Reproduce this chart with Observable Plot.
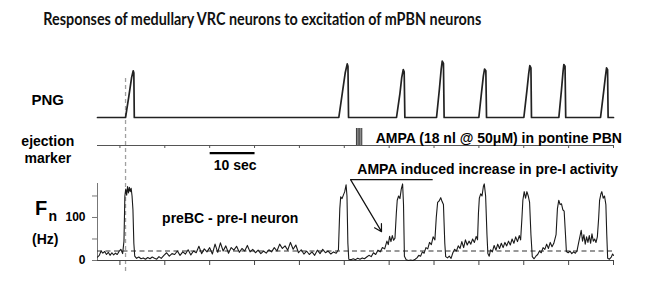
<!DOCTYPE html>
<html>
<head>
<meta charset="utf-8">
<script src="https://cdn.jsdelivr.net/npm/d3@7"></script>
<script src="https://cdn.jsdelivr.net/npm/@observablehq/plot@0.6"></script>
<style>
html, body { margin: 0; padding: 0; background: #fff; }
#root { position: relative; width: 648px; height: 294px; overflow: hidden; font-family: "Liberation Sans", Arial, sans-serif; color: #000; }
#title { position: absolute; left: 0; top: 0; }
.lab { position: absolute; font-weight: bold; white-space: nowrap; }
.layer { position: absolute; left: 0; }
</style>
</head>
<body>
<div id="root">
  <svg id="title" width="648" height="34" xmlns="http://www.w3.org/2000/svg">
    <text x="43.3" y="25.3" textLength="438" lengthAdjust="spacingAndGlyphs" font-family="Lato, 'Open Sans', sans-serif" font-weight="700" font-size="16.5" fill="#111">Responses of medullary VRC neurons to excitation of mPBN neurons</text>
  </svg>
  <div class="lab" style="left:31.5px; top:92.3px; font-size:15px; line-height:15px;">PNG</div>
  <div class="lab" style="left:0; width:95.6px; text-align:center; top:132.8px; font-size:14px; line-height:16.7px;">ejection<br>marker</div>
  <div class="lab" style="left:35px; top:198px; font-size:20px; line-height:20px;">F</div>
  <div class="lab" style="left:48.5px; top:209px; font-size:14px; line-height:14px;">n</div>
  <div class="lab" style="left:32px; top:232px; font-size:14px; line-height:14px;">(Hz)</div>
  <div id="layerStim" class="layer" style="top:70px"></div>
  <div id="layerPng" class="layer" style="top:50px"></div>
  <div id="layerMarker" class="layer" style="top:120px"></div>
  <div id="layerFn" class="layer" style="top:170px"></div>
</div>
<script>
// ---------------- data ----------------
// time axis in seconds; ticks every 10 s
const tickTimes = [0, 10, 20, 30, 40, 50, 60, 70, 80, 90, 100, 110];
const stimulusTime = 1.25;           // dashed vertical reference
const thresholdRate = 22;            // dashed horizontal level (Hz)

// PNG (phrenic nerve) integrated activity, arbitrary units
const pngTime = [-5, 1.25, 2.0, 2.6, 2.96, 3.1, 3.2,
  48.78, 49.6, 50.2, 50.66, 50.82, 50.95,
  61.64, 62.4, 62.8, 63.14, 63.35, 63.5,
  70.56, 71.2, 71.6, 71.83, 72.1, 72.25,
  79.99, 80.6, 81.0, 81.26, 81.55, 81.7,
  90.02, 90.7, 91.1, 91.35, 91.6, 91.72,
  97.82, 98.4, 98.75, 98.93, 99.2, 99.35,
  107.11, 107.8, 108.2, 108.45, 108.68, 108.8, 110];
const pngValue = [0, 0, 0.38, 0.7, 0.82, 0.78, 0,
  0, 0.45, 0.78, 0.94, 0.9, 0,
  0, 0.42, 0.7, 0.84, 0.8, 0,
  0, 0.5, 0.85, 0.99, 0.95, 0,
  0, 0.45, 0.73, 0.85, 0.82, 0,
  0, 0.47, 0.77, 0.91, 0.87, 0,
  0, 0.48, 0.8, 0.93, 0.9, 0,
  0, 0.45, 0.72, 0.87, 0.84, 0, 0];

// AMPA ejection
const ejectionStart = 52.7;
const ejectionEnd = 54.0;
const ejectionPulses = [52.75, 53.3, 53.9];
const ejectionLabel = "AMPA (18 nl @ 50\u03BCM) in pontine PBN";

// time scale bar
const scaleBarStart = 20;
const scaleBarEnd = 30;
const scaleBarLabel = "10 sec";

// preBC pre-I neuron firing rate (Hz)
const fnTime = [-5.0,-4.6,-4.2,-3.8,-3.4,-3.0,-2.6,-2.2,-1.8,-1.4,-1.0,-0.6,-0.2,0.2,0.6,
  0.9,1.1,1.3,1.5,1.7,1.9,2.1,2.3,2.5,2.7,2.9,3.1,3.3,
  3.7,4.2,4.7,5.2,5.7,6.2,6.7,7.2,7.7,8.2,8.7,9.2,
  9.8,10.4,11.0,11.6,12.2,12.8,13.4,14.0,14.6,15.2,15.8,16.4,17.0,17.6,18.2,18.8,19.4,20.0,20.6,21.2,21.8,22.4,23.0,23.6,24.2,24.8,25.4,26.0,26.6,27.2,27.8,28.4,29.0,29.6,30.2,30.8,31.4,32.0,32.6,33.2,33.8,34.4,35.0,35.6,36.2,36.8,37.4,38.0,38.6,39.2,39.8,40.4,41.0,41.6,42.2,42.8,43.4,44.0,44.6,45.2,45.8,46.4,47.0,47.6,48.2,
  48.7,49.0,49.2,49.5,49.8,50.1,50.4,50.6,50.8,51.0,
  51.5,52.0,52.5,53.0,53.5,54.0,54.5,55.0,
  55.5,56.0,56.5,57.0,57.5,58.0,58.5,59.0,59.5,59.8,60.1,60.4,60.7,61.0,61.3,
  61.6,61.8,62.1,62.4,62.7,63.0,63.2,63.4,
  63.8,64.3,64.8,65.3,65.8,66.2,
  66.6,67.0,67.4,67.8,68.2,68.6,69.0,69.4,69.8,70.2,
  70.5,70.8,71.1,71.5,71.8,72.1,72.4,72.6,73.0,73.4,73.8,
  74.2,74.6,75.0,75.4,75.8,76.2,76.6,77.0,77.4,77.8,78.2,78.6,79.0,79.4,79.7,
  79.9,80.1,80.4,80.7,81.0,81.2,81.5,81.8,82.0,
  82.3,82.6,83.0,83.4,83.8,84.2,84.6,85.0,85.4,85.8,86.2,86.6,87.0,87.4,87.8,88.2,88.6,89.0,89.3,
  89.6,89.8,90.1,90.4,90.7,91.0,91.3,91.6,91.9,
  92.3,92.7,93.1,93.5,93.9,94.3,94.7,95.1,95.5,95.9,96.3,96.7,
  97.2,97.5,97.8,98.1,98.4,98.7,99.0,99.3,99.5,
  99.9,100.3,100.7,101.1,101.5,101.9,
  102.2,102.5,102.8,103.1,103.4,103.7,104.0,104.3,104.6,104.9,105.2,105.5,105.8,106.1,106.4,
  106.7,106.9,107.2,107.4,107.7,108.0,108.3,108.5,108.7,
  109.1,109.5,109.8,110.0];
const fnRate = [8,12,22,17,21,14,19,12,18,13,17,14,21,26,16,
  45,150,166,152,172,157,170,160,168,150,118,40,10,
  5,8,4,6,3,7,4,8,5,3,9,5,
  12,18,10,16,14,22,12,20,15,25,13,22,18,33,16,27,20,30,15,38,19,41,22,34,17,30,24,33,19,28,22,35,20,26,18,24,16,22,17,25,20,30,22,38,28,34,24,42,26,36,18,25,15,22,14,20,12,24,16,26,18,22,15,20,17,
  25,120,148,144,152,160,176,150,40,3,
  2,4,2,5,3,6,4,8,
  12,9,18,14,24,20,30,27,45,37,56,44,58,47,52,
  110,140,150,144,166,178,130,10,
  2,0,1,0,3,6,
  12,10,20,17,30,27,42,37,55,48,
  100,135,138,146,137,130,40,9,6,10,5,
  18,26,22,34,28,44,30,48,36,45,38,50,42,56,48,
  110,145,155,150,172,178,150,60,16,
  10,25,20,35,24,38,28,40,30,42,34,45,36,50,40,55,44,58,48,
  100,140,160,145,160,150,135,60,9,
  4,10,14,22,18,30,26,38,28,42,32,40,
  60,120,140,130,132,118,115,60,21,
  18,22,16,20,17,24,
  40,55,70,45,60,38,55,42,58,40,62,45,50,42,55,
  100,140,155,160,145,150,130,60,5,
  3,8,15,12];

const neuronLabel = "preBC - pre-I neuron";
const arrowLabel = "AMPA induced increase in pre-I activity";

// ---------------- tables ----------------
const pngData = pngTime.map((t, i) => ({t, v: pngValue[i]}));
const fnData = fnTime.map((t, i) => ({t, rate: fnRate[i]}));

const font = "'Liberation Sans', Arial, sans-serif";
const common = {
  width: 648,
  marginLeft: 97,
  marginRight: 35,
  x: {domain: [-5, 110], axis: null, label: null},
  style: {background: "transparent", overflow: "visible", fontFamily: font}
};

// dashed vertical reference through all panels
document.getElementById("layerStim").append(Plot.plot({
  ...common, height: 210, marginTop: 8, marginBottom: 7,
  y: {domain: [0, 1], axis: null},
  marks: [Plot.ruleX([stimulusTime], {stroke: "#a0a0a0", strokeWidth: 1.3, strokeDasharray: "4,3"})]
}));

// PNG panel
document.getElementById("layerPng").append(Plot.plot({
  ...common, height: 90, marginTop: 10, marginBottom: 23,
  y: {domain: [0, 1], axis: null, label: null},
  marks: [Plot.line(pngData, {x: "t", y: "v", stroke: "#222", strokeWidth: 1.7})]
}));

// ejection marker panel
document.getElementById("layerMarker").append(Plot.plot({
  ...common, height: 50, marginTop: 8, marginBottom: 25,
  y: {domain: [0, 1], axis: null, label: null},
  marks: [
    Plot.ruleY([0], {stroke: "#555"}),
    Plot.axisX(tickTimes, {tickSize: 3, tickFormat: () => "", stroke: "#555", label: null}),
    Plot.rect([{start: ejectionStart, end: ejectionEnd}], {x1: "start", x2: "end", y1: 0, y2: 1, fill: "#8c8c8c"}),
    Plot.ruleX(ejectionPulses, {y1: 0, y2: 1, stroke: "#3a3a3a"}),
    Plot.text([ejectionLabel], {x: 57, y: 0.44, text: d => d, textAnchor: "start", fontSize: 14, fontWeight: "bold", fill: "#000"}),
    Plot.link([{start: scaleBarStart, end: scaleBarEnd}], {x1: "start", x2: "end", y1: -0.45, y2: -0.45, stroke: "#000", strokeWidth: 2.2}),
    Plot.text([scaleBarLabel], {x: 20.9, y: -1.2, text: d => d, textAnchor: "start", fontSize: 14, fontWeight: "bold", fill: "#000"})
  ]
}));

// Fn panel
document.getElementById("layerFn").append(Plot.plot({
  ...common, height: 104, marginTop: 13, marginBottom: 14,
  y: {domain: [0, 179], axis: null, label: null},
  marks: [
    Plot.ruleY([0], {stroke: "#444"}),
    Plot.ruleX([-5], {y1: 0, y2: 179, stroke: "#777"}),
    Plot.axisY([0, 50, 100, 150], {tickSize: 5, tickPadding: 7, tickFormat: d => (d === 0 || d === 100) ? String(d) : "", fontSize: 12, fontWeight: "bold", stroke: "#777", fill: "#000", label: null}),
    Plot.axisX(tickTimes, {tickSize: 5, tickFormat: () => "", stroke: "#444", label: null}),
    Plot.ruleY([thresholdRate], {stroke: "#333", strokeWidth: 1.1, strokeDasharray: "5,3.5"}),
    Plot.line(fnData, {x: "t", y: "rate", stroke: "#1a1a1a", strokeWidth: 1.1}),
    Plot.text([neuronLabel], {x: 9.4, y: 96.5, text: d => d, textAnchor: "start", fontSize: 14, fontWeight: "bold", fill: "#000"}),
    Plot.text([arrowLabel], {x: 52.9, y: 210.5, text: d => d, textAnchor: "start", fontSize: 14, fontWeight: "bold", fill: "#000"}),
    Plot.link([{}], {x1: 51.4, y1: 188, x2: 69.7, y2: 188, stroke: "#111", strokeWidth: 1.2}),
    Plot.arrow([{}], {x1: 51.4, y1: 188, x2: 58.3, y2: 67, stroke: "#111", strokeWidth: 1.2, headLength: 10})
  ]
}));
</script>
</body>
</html>
